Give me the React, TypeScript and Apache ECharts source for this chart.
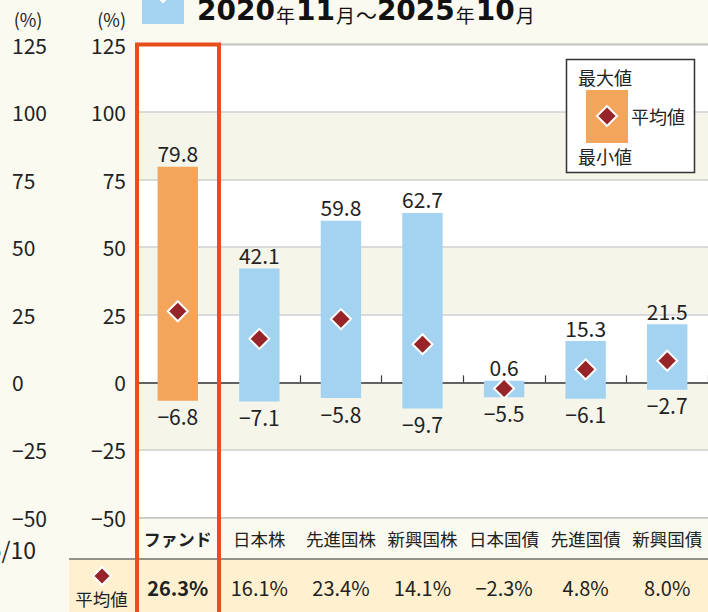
import React, { useEffect, useRef } from 'react';
import * as echarts from 'echarts';

const categories = ['ファンド', '日本株', '先進国株', '新興国株', '日本国債', '先進国債', '新興国債'];
const maxValues = [79.8, 42.1, 59.8, 62.7, 0.6, 15.3, 21.5];
const minValues = [-6.8, -7.1, -5.8, -9.7, -5.5, -6.1, -2.7];
const avgValues = [26.3, 16.1, 23.4, 14.1, -2.3, 4.8, 8.0];
const yMin = -50;
const yMax = 125;
const yStep = 25;
const periodParts: [string, string][] = [
  ['b', '2020'], ['s', '年'], ['b', '11'], ['s', '月'], ['t', '～'], ['b', '2025'], ['s', '年'], ['b', '10'], ['s', '月'],
];
const legendLabels = ['最大値', '平均値', '最小値'];
const avgRowLabel = '平均値';
const cutLabel = '2025/10';

const FONT = '"Noto Sans CJK JP", "Noto Sans", sans-serif';
const ORANGE = '#F2A55B';
const BLUE = '#A3D3F0';
const DIAMOND = '#962428';
const TEXT = '#222222';
const RED = '#E84E1C';

const fmt = (v: number, d: number) => (v < 0 ? '−' : '') + Math.abs(v).toFixed(d);

export default function App() {
  const ref = useRef<HTMLDivElement>(null);
  useEffect(() => {
    if (!ref.current) return;
    const chart = echarts.init(ref.current, undefined, { renderer: 'svg' });
    const yLabelFmt = (v: number) => (v < 0 ? '−' + Math.abs(v) : String(v));
    const option: any = {
      animation: false,
      backgroundColor: '#FBFAF1',
      textStyle: { fontFamily: FONT },
      grid: {
        left: 137,
        top: 44.5,
        width: 581,
        height: 473,
        show: true,
        backgroundColor: '#ffffff',
        borderColor: '#6a6a6a',
        borderWidth: 1.5,
      },
      xAxis: [
        {
          type: 'category',
          data: categories,
          position: 'bottom',
          axisLine: { show: false, onZero: false },
          axisTick: { show: false },
          axisLabel: {
            interval: 0,
            margin: 12,
            fontSize: 17.5,
            color: TEXT,
            fontFamily: FONT,
            formatter: (v: string, i: number) => (i === 0 ? `{b|${v}}` : v),
            rich: { b: { fontWeight: 'bold', fontSize: 17, fontFamily: FONT, color: TEXT } },
          },
        },
        {
          type: 'category',
          data: avgValues.map((v) => fmt(v, 1) + '%'),
          position: 'bottom',
          offset: 52,
          axisLine: { show: false, onZero: false },
          axisTick: { show: false },
          axisLabel: {
            interval: 0,
            margin: 8,
            fontSize: 20,
            color: TEXT,
            fontFamily: FONT,
            formatter: (v: string, i: number) => (i === 0 ? `{b|${v}}` : v),
            rich: { b: { fontWeight: 'bold', fontSize: 20, fontFamily: FONT, color: TEXT } },
          },
        },
        {
          type: 'category',
          data: categories,
          position: 'bottom',
          axisLine: { show: true, onZero: true, lineStyle: { color: '#3a3a3a', width: 1.5 } },
          axisTick: { show: true, inside: true, length: 7, lineStyle: { color: '#3a3a3a', width: 1.2 } },
          axisLabel: { show: false },
        },
      ],
      yAxis: [
        {
          type: 'value',
          min: yMin,
          max: yMax,
          interval: yStep,
          position: 'left',
          name: '(%)',
          nameLocation: 'end',
          nameGap: 17,
          nameTextStyle: { fontSize: 18, color: TEXT, fontFamily: FONT, align: 'right', padding: [0, 11, 0, 0] },
          axisLine: { show: false },
          axisTick: { show: false },
          axisLabel: { margin: 11, fontSize: 21, color: TEXT, fontFamily: FONT, formatter: yLabelFmt },
          splitLine: { show: true, lineStyle: { color: '#cfcfcf', width: 1.5 } },
          splitArea: { show: true, areaStyle: { color: ['#ffffff', '#F5F5EA'] } },
        },
        {
          type: 'value',
          min: yMin,
          max: yMax,
          interval: yStep,
          position: 'left',
          offset: 109,
          name: '(%)',
          nameLocation: 'end',
          nameGap: 17,
          nameTextStyle: { fontSize: 18, color: TEXT, fontFamily: FONT },
          axisLine: { show: false },
          axisTick: { show: false },
          axisLabel: { margin: 16, align: 'left', fontSize: 21, color: TEXT, fontFamily: FONT, formatter: yLabelFmt },
          splitLine: { show: false },
          splitArea: { show: false },
        },
      ],
      series: [
        {
          type: 'custom',
          xAxisIndex: 0,
          yAxisIndex: 0,
          z: 3,
          encode: { x: 0, y: [1, 2] },
          data: categories.map((_, i) => [i, minValues[i], maxValues[i]]),
          renderItem: (params: any, api: any) => {
            const i = api.value(0);
            const lo = api.value(1);
            const hi = api.value(2);
            const top = api.coord([i, hi]);
            const bot = api.coord([i, lo]);
            const w = api.size([1, 0])[0] * 0.495;
            return {
              type: 'group',
              children: [
                {
                  type: 'rect',
                  shape: { x: top[0] - w / 2, y: top[1], width: w, height: bot[1] - top[1] },
                  style: { fill: i === 0 ? ORANGE : BLUE },
                },
                {
                  type: 'text',
                  x: top[0],
                  y: top[1] - 3,
                  style: { text: fmt(hi, 1), align: 'center', verticalAlign: 'bottom', fontSize: 21, fill: TEXT, fontFamily: FONT },
                },
                {
                  type: 'text',
                  x: bot[0],
                  y: bot[1] + 5,
                  style: { text: fmt(lo, 1), align: 'center', verticalAlign: 'top', fontSize: 21, fill: TEXT, fontFamily: FONT },
                },
              ],
            };
          },
        },
        {
          type: 'scatter',
          xAxisIndex: 0,
          yAxisIndex: 0,
          z: 5,
          symbol: 'diamond',
          symbolSize: 20,
          itemStyle: { color: DIAMOND, borderColor: '#ffffff', borderWidth: 2, opacity: 1 },
          data: avgValues,
        },
      ],
      graphic: [
        // average row background
        { type: 'rect', z: -10, shape: { x: 69, y: 559, width: 700, height: 60 }, style: { fill: '#FFF1CF' } },
        { type: 'line', z: 1, shape: { x1: 69, y1: 559, x2: 708, y2: 559 }, style: { stroke: '#707070', lineWidth: 1.5 } },
        { type: 'polygon', z: 2, shape: { points: [[102, 567], [111, 576], [102, 585], [93, 576]] }, style: { fill: DIAMOND, stroke: '#fff', lineWidth: 2 } },
        { type: 'text', z: 2, x: 101.5, y: 598, style: { text: avgRowLabel, align: 'center', verticalAlign: 'middle', fontSize: 17.5, fill: TEXT, fontFamily: FONT } },
        // cut-off date label at left
        { type: 'text', z: 2, x: 36, y: 549, style: { text: cutLabel, align: 'right', verticalAlign: 'middle', fontSize: 23, fill: TEXT, fontFamily: FONT } },
        // title
        { type: 'rect', z: 2, shape: { x: 142, y: -5, width: 42, height: 29 }, style: { fill: BLUE } },
        { type: 'polygon', z: 3, shape: { points: [[163, -18], [173, -8], [163, 2], [153, -8]] }, style: { fill: DIAMOND, stroke: '#fff', lineWidth: 2 } },
        {
          type: 'text',
          z: 2,
          x: 197,
          y: 24,
          style: {
            text: periodParts.map(([k, p]) => `{${k}|${p}}`).join(''),
            verticalAlign: 'bottom',
            rich: {
              b: { fontSize: 28, fontWeight: 'bold', fill: '#111', fontFamily: '"DejaVu Sans", sans-serif', lineHeight: 30, verticalAlign: 'bottom' },
              s: { fontSize: 19, fill: '#111', fontFamily: FONT, lineHeight: 30, verticalAlign: 'bottom', padding: [0, 1, 0, 1] },
              t: { fontSize: 21, fill: '#111', fontFamily: FONT, lineHeight: 30, verticalAlign: 'bottom' },
            },
          },
        },
        // legend box
        { type: 'rect', z: 20, shape: { x: 566.5, y: 59.5, width: 128, height: 113 }, style: { fill: '#ffffff', stroke: '#333333', lineWidth: 1.5 } },
        { type: 'rect', z: 21, shape: { x: 586, y: 90, width: 42, height: 53 }, style: { fill: ORANGE } },
        { type: 'polygon', z: 22, shape: { points: [[607, 106], [617, 116], [607, 126], [597, 116]] }, style: { fill: DIAMOND, stroke: '#fff', lineWidth: 2 } },
        { type: 'text', z: 22, x: 578, y: 77, style: { text: legendLabels[0], verticalAlign: 'middle', fontSize: 18, fill: TEXT, fontFamily: FONT } },
        { type: 'text', z: 22, x: 631, y: 116, style: { text: legendLabels[1], verticalAlign: 'middle', fontSize: 18, fill: TEXT, fontFamily: FONT } },
        { type: 'text', z: 22, x: 578, y: 156, style: { text: legendLabels[2], verticalAlign: 'middle', fontSize: 18, fill: TEXT, fontFamily: FONT } },
        // red highlight frame
        { type: 'rect', z: 50, shape: { x: 137, y: 44.5, width: 82, height: 600 }, style: { fill: 'none', stroke: RED, lineWidth: 4 } },
      ],
    };
    chart.setOption(option);
    return () => chart.dispose();
  }, []);
  return <div ref={ref} style={{ width: 708, height: 612, position: 'absolute', left: 0, top: 0 }} />;
}
